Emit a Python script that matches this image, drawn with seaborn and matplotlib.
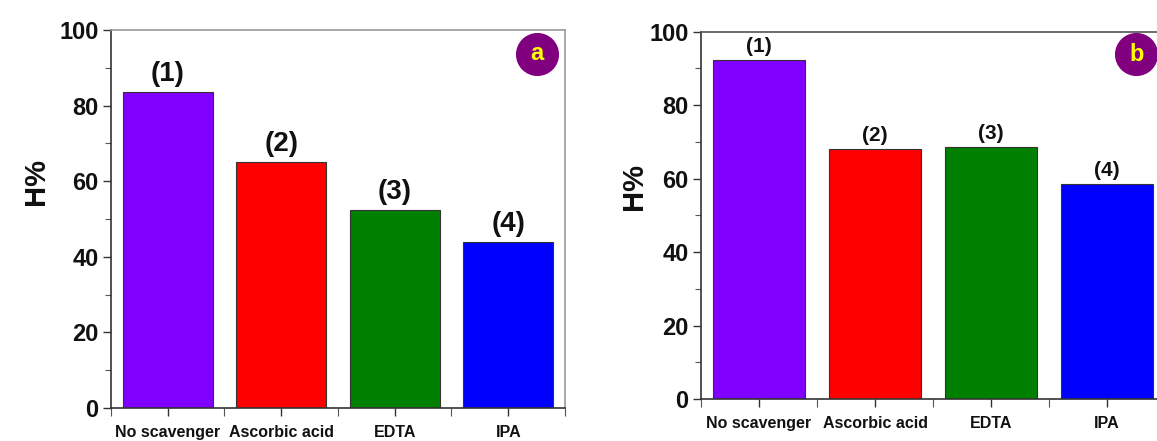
import matplotlib
matplotlib.use("Agg")
import matplotlib.pyplot as plt
import seaborn as sns
import pandas as pd

# Data
categories = ["No scavenger", "Ascorbic acid", "EDTA", "IPA"]
h_a = [83.6, 65.0, 52.3, 43.8]
h_b = [92.3, 68.0, 68.6, 58.6]
bar_labels = ["(1)", "(2)", "(3)", "(4)"]
bar_colors = ["#8000FF", "#FF0000", "#008000", "#0000FF"]
panel_tags = ["a", "b"]

sns.set_style("ticks")
narrow = ["Liberation Sans Narrow", "Liberation Sans", "DejaVu Sans"]
plt.rcParams["font.family"] = narrow

fig = plt.figure(figsize=(11.57, 4.41), dpi=100)
ax_a = fig.add_axes([0.0959, 0.0748, 0.3924, 0.857])
ax_b = fig.add_axes([0.6059, 0.0952, 0.4010, 0.833])


def draw_panel(ax, values, tag, label_size, label_pad, ylab_xy, top_col, right_col):
    df = pd.DataFrame({"cat": categories, "H": values})
    sns.barplot(data=df, x="cat", y="H", hue="cat", palette=bar_colors,
                legend=False, width=0.79, edgecolor="#333333", linewidth=0.8,
                saturation=1, ax=ax)
    ax.set_xlim(-0.5, 3.5)
    ax.set_ylim(0, 100)
    ax.set_yticks([0, 20, 40, 60, 80, 100])
    ax.set_yticks([10, 30, 50, 70, 90], minor=True)
    ax.set_xticks(range(len(categories)))
    ax.set_xticks([-0.5, 0.5, 1.5, 2.5, 3.5], minor=True)
    ax.set_xticklabels(categories, fontsize=11.5, fontweight="bold", color="#111111")
    for t in ax.get_yticklabels():
        t.set_fontsize(17)
        t.set_fontweight("bold")
        t.set_color("#111111")
    ax.tick_params(axis="both", which="major", length=6, width=1, color="#333333")
    ax.tick_params(axis="both", which="minor", length=4, width=0.8, color="#555555")
    ax.tick_params(axis="x", which="minor", length=6)
    ax.tick_params(axis="x", pad=6)
    ax.tick_params(axis="y", pad=3)
    ax.set_xlabel("")
    ax.set_ylabel("H%", fontsize=21, fontweight="bold",
                  family=["Liberation Sans", "DejaVu Sans"], color="#111111")
    ax.yaxis.set_label_coords(*ylab_xy)
    for side in ["left", "bottom"]:
        ax.spines[side].set_color("#333333")
        ax.spines[side].set_linewidth(1.2)
    ax.spines["top"].set_visible(True)
    ax.spines["right"].set_visible(True)
    ax.spines["top"].set_color(top_col)
    ax.spines["right"].set_color(right_col)
    ax.spines["top"].set_linewidth(1.2)
    ax.spines["right"].set_linewidth(1.2)

    for i, (v, lab) in enumerate(zip(values, bar_labels)):
        ax.annotate(lab, xy=(i, v), xytext=(0, label_pad), textcoords="offset points",
                    ha="center", va="bottom", fontsize=label_size,
                    fontweight="bold", color="#111111")

    # panel tag badge
    ax.plot([0.938], [0.938], marker="o", markersize=30, color="#800080",
            transform=ax.transAxes, clip_on=False, zorder=5)
    ax.text(0.938, 0.938, tag, transform=ax.transAxes, ha="center", va="center",
            fontsize=17, fontweight="bold", color="#FFFF00",
            family=["Liberation Sans", "DejaVu Sans"], zorder=6)


draw_panel(ax_a, h_a, panel_tags[0], 20, 4, (-0.134, 0.60), "#999999", "#999999")
draw_panel(ax_b, h_b, panel_tags[1], 15, 3, (-0.114, 0.578), "#555555", "#555555")

fig.savefig("out.png", dpi=100)
